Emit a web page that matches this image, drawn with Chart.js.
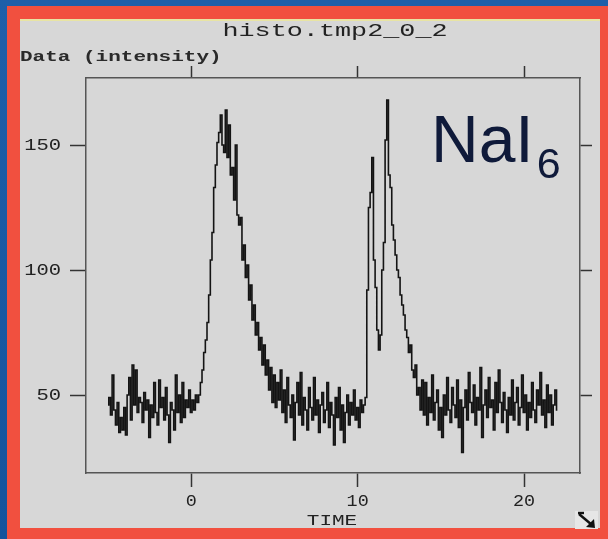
<!DOCTYPE html>
<html>
<head>
<meta charset="utf-8">
<script src="https://cdn.jsdelivr.net/npm/chart.js@4.4.1/dist/chart.umd.min.js"></script>
<style>
  html, body { margin: 0; padding: 0; background: #1d5ca5; }
  #wrap { width: 608px; height: 539px; }
</style>
</head>
<body>
<div id="wrap"><canvas id="histo" width="608" height="539"></canvas></div>
<script>
// Histogram binning along the time axis
const timeStart = -5.0;
const binWidth = 0.1;

// Counts per bin (intensity), in time order
const baselineBefore = [46,49,42,58,44,38,47,35,41,36, 45,34,50,57,40,62,46,60,43,49,
                        47,39,51,44,48,33,46,41,55,43, 38,56,45,49,40,53,42,31,47,44,
                        36,58,43,50,39,55,41,48,45,52, 43,48,44,50,47];
const firstPeak      = [50,55,60,67,72,79,90,104,115,133, 142,151,155,162,150,147,164,145,158,138,
                        141,128,150,122,118,121,104,110,97,102, 88,94,80,86,74,79,68,73,62,70,
                        58,64,52,61,47,58,45,55];
const baselineMiddle = [48,60,43,52,39,57,46,41,50,32, 47,55,42,59,38,49,44,36,53,45,
                        40,57,42,48,35,46,51,39,44,55, 37,47,42,30,49,41,53,36,46,31,
                        43,50,38,47,42,52,40,45,37,48, 43,46,49];
const secondPeak     = [92,125,131,145,104,93,76,68,74,100, 111,152,168,138,133,118,112,106,100,97,
                        90,86,82,76,73,67,70,60,57,62, 50,53,44,56,42];
const baselineAfter  = [55,38,49,43,58,40,47,52,36, 45,33,50,42,57,44,39,53,46,41,
                        56,37,48,27,45,52,40,59,47,43, 54,38,49,44,61,33,46,52,41,57,
                        45,48,36,55,43,60,47,39,51,44, 35,49,42,56,40,47,53,38,45,58,
                        43,50,36,47,41,55,44,39,52,46, 59,42,48,37,54,43,50,38,46,52,
                        44];

const counts = [...baselineBefore, ...firstPeak, ...baselineMiddle, ...secondPeak, ...baselineAfter];

// Axis ticks and text
const xTicks = [0, 10, 20];
const yTicks = [50, 100, 150];
const chartTitle = 'histo.tmp2_0_2';
const yLabel = 'Data (intensity)';
const xLabel = 'TIME';
const tagMain = 'NaI';
const tagSub = '6';

const points = counts.map((v, i) => ({ x: timeStart + i * binWidth, y: v }));

const MONO = '"Liberation Mono", "DejaVu Sans Mono", monospace';
const INK = '#222222';
const FRAME = '#555555';

function stretchedText(ctx, text, x, y, font, sx, align, color) {
  ctx.save();
  ctx.font = font;
  ctx.fillStyle = color || INK;
  ctx.textAlign = align;
  ctx.textBaseline = 'middle';
  ctx.translate(x, y);
  ctx.scale(sx, 1);
  ctx.fillText(text, 0, 0);
  ctx.restore();
}

// Screen background, red frame and grey panel
const panelPlugin = {
  id: 'panel',
  beforeDraw(chart) {
    const ctx = chart.ctx;
    ctx.save();
    const g = ctx.createLinearGradient(0, 0, 0, 539);
    g.addColorStop(0, '#1f5fa9');
    g.addColorStop(1, '#15539c');
    ctx.fillStyle = g;
    ctx.fillRect(0, 0, 608, 539);
    ctx.fillStyle = '#f1503f';
    ctx.fillRect(7, 6, 601, 533);
    ctx.fillStyle = '#d7d7d7';
    ctx.fillRect(20, 19, 580, 509);
    ctx.fillStyle = '#e8e4a4';
    ctx.fillRect(20, 19, 580, 2);
    ctx.restore();
  }
};

// Titles, tick labels, species tag and the corner resize glyph
const labelPlugin = {
  id: 'labels',
  afterDraw(chart) {
    const ctx = chart.ctx;
    const xs = chart.scales.x, ys = chart.scales.y;

    stretchedText(ctx, chartTitle, 335, 31, '19px ' + MONO, 1.41, 'center');
    stretchedText(ctx, yLabel, 20, 57, 'bold 14px ' + MONO, 1.5, 'left', '#2a2a2a');

    yTicks.forEach(v => {
      stretchedText(ctx, String(v), 61, ys.getPixelForValue(v) + 1, '16px ' + MONO, 1.28, 'right');
    });
    xTicks.forEach(v => {
      stretchedText(ctx, String(v), xs.getPixelForValue(v), 502, '16px ' + MONO, 1.15, 'center');
    });
    stretchedText(ctx, xLabel, 332, 521, '14px ' + MONO, 1.5, 'center');

    // NaI6 tag
    ctx.save();
    ctx.fillStyle = '#0f1a3a';
    ctx.textBaseline = 'alphabetic';
    ctx.textAlign = 'left';
    ctx.font = '66px "Liberation Sans", Arial, sans-serif';
    ctx.fillText(tagMain, 431, 162);
    const w = ctx.measureText(tagMain).width;
    ctx.font = '43px "Liberation Sans", Arial, sans-serif';
    ctx.fillText(tagSub, 431 + w + 3, 178);
    ctx.restore();

    // resize glyph
    ctx.save();
    ctx.fillStyle = '#e6e6e6';
    ctx.fillRect(575, 511, 23, 18);
    ctx.strokeStyle = '#111';
    ctx.lineWidth = 2.4;
    ctx.beginPath();
    ctx.moveTo(579, 514); ctx.lineTo(592, 525);
    ctx.stroke();
    ctx.fillStyle = '#111';
    ctx.beginPath();
    ctx.moveTo(595, 528); ctx.lineTo(586, 527); ctx.lineTo(594, 519);
    ctx.closePath(); ctx.fill();
    ctx.beginPath();
    ctx.moveTo(578, 513); ctx.lineTo(584, 513);
    ctx.stroke();
    ctx.restore();
  }
};

function axis(position, min, max, ticks, size, tickLength) {
  return {
    type: 'linear',
    position,
    min, max,
    afterBuildTicks: s => { s.ticks = ticks.map(v => ({ value: v })); },
    afterFit: s => {
      if (position === 'left' || position === 'right') s.width = size; else s.height = size;
    },
    ticks: { display: false },
    grid: {
      drawOnChartArea: false,
      drawTicks: true,
      tickLength,
      tickColor: '#333',
      tickWidth: 1.5,
      color: '#333'
    },
    border: { display: true, color: FRAME, width: 1.5 }
  };
}

new Chart(document.getElementById('histo'), {
  type: 'line',
  data: {
    datasets: [{
      data: points,
      stepped: 'middle',
      borderColor: '#141414',
      borderWidth: 1.6,
      pointRadius: 0,
      fill: false
    }]
  },
  options: {
    responsive: false,
    animation: false,
    layout: { padding: { top: 64, left: 0, right: 0, bottom: 0 } },
    plugins: { legend: { display: false }, title: { display: false }, tooltip: { enabled: false } },
    scales: {
      x:  axis('bottom', -6.32, 23.36, xTicks, 66, 14),
      x2: axis('top',    -6.32, 23.36, xTicks, 14, 12),
      y:  axis('left',   18.8, 176.8, yTicks, 86, 16),
      y2: axis('right',  18.8, 176.8, yTicks, 28, 12)
    }
  },
  plugins: [panelPlugin, labelPlugin]
});
</script>
</body>
</html>
